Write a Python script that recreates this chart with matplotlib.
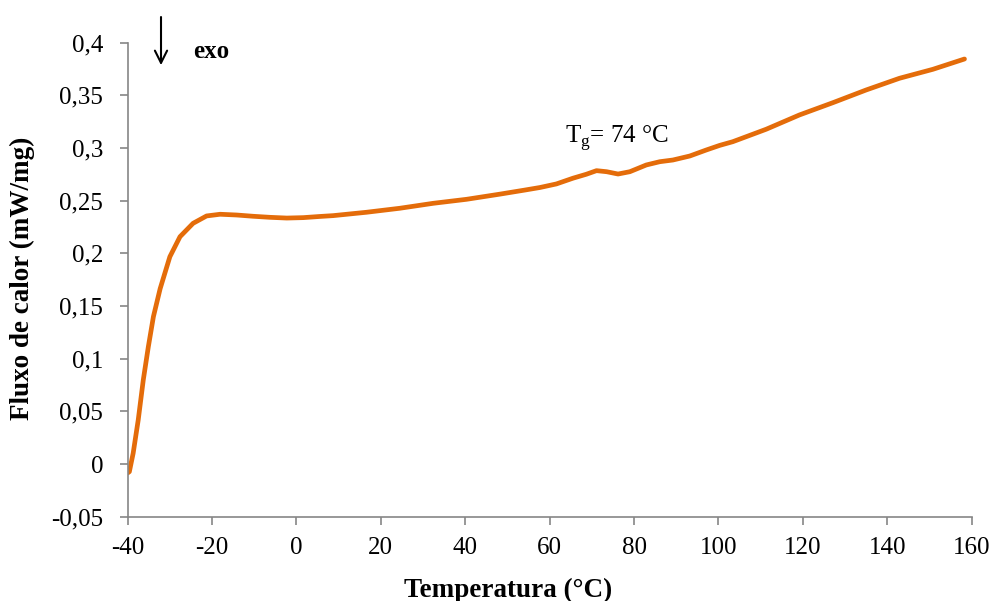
import numpy as np
import matplotlib.pyplot as plt
from matplotlib.ticker import FuncFormatter

# DSC curve (temperature in C, heat flow in mW/mg)
temperatura = [-40.0, -39.6, -38.7, -37.5, -36.3, -35.1, -33.9, -32.3, -30.0, -27.6,
               -24.5, -21.3, -18.1, -14.2, -10.3, -6.3, -2.3, 1.6, 5.5, 8.7,
               16.6, 24.5, 32.4, 40.3, 48.2, 54.0, 57.7, 61.6, 65.5, 68.7,
               71.1, 73.5, 76.2, 79.0, 82.9, 86.1, 89.2, 93.2, 97.1, 100.3,
               103.4, 111.3, 119.2, 127.1, 135.0, 142.9, 150.8, 158.3]
fluxo = [-0.0085, -0.0073, 0.0102, 0.0418, 0.0798, 0.1114, 0.1399, 0.1665, 0.1968, 0.2158,
         0.2285, 0.2355, 0.2371, 0.2364, 0.2352, 0.2342, 0.2335, 0.2339, 0.2350, 0.2358,
         0.2390, 0.2428, 0.2475, 0.2513, 0.2562, 0.2600, 0.2625, 0.2659, 0.2713, 0.2751,
         0.2785, 0.2775, 0.2753, 0.2775, 0.2839, 0.2870, 0.2886, 0.2924, 0.2981, 0.3025,
         0.3060, 0.3178, 0.3314, 0.3430, 0.3551, 0.3662, 0.3747, 0.3845]

x_ticks = [-40, -20, 0, 20, 40, 60, 80, 100, 120, 140, 160]
y_ticks = [-0.05, 0, 0.05, 0.1, 0.15, 0.2, 0.25, 0.3, 0.35, 0.4]

plt.rcParams['font.family'] = ['Liberation Serif', 'DejaVu Serif']
plt.rcParams['mathtext.fontset'] = 'custom'
plt.rcParams['mathtext.rm'] = 'Liberation Serif'
plt.rcParams['axes.unicode_minus'] = False

fig = plt.figure(figsize=(9.92, 6.01), dpi=100)
ax = fig.add_axes([0.1287, 0.1403, 0.8508, 0.7887])

ax.plot(temperatura, fluxo, color='#E46C0A', lw=3.4, solid_capstyle='round',
        solid_joinstyle='round')

ax.set_xlim(-40, 160)
ax.set_ylim(-0.05, 0.4)
ax.set_xticks(x_ticks)
ax.set_yticks(y_ticks)
ax.yaxis.set_major_formatter(FuncFormatter(lambda v, p: ('%g' % round(v, 2)).replace('.', ',')))

for s in ['top', 'right']:
    ax.spines[s].set_visible(False)
for s in ['left', 'bottom']:
    ax.spines[s].set_color('#868686')
    ax.spines[s].set_linewidth(1.2)
ax.tick_params(axis='both', direction='out', length=5.5, width=1.2, color='#868686', labelsize=18)
ax.tick_params(axis='x', pad=9)
ax.tick_params(axis='y', pad=12)

# axis titles (placed like the original, x title sits left of centre)
fig.text(0.5124, 0.0072, 'Temperatura (°C)', fontsize=19.5, fontweight='bold',
         ha='center', va='baseline')
fig.text(0.023, 0.5374, 'Fluxo de calor (mW/mg)', fontsize=19.5, fontweight='bold',
         rotation=90, ha='center', va='center')

# exo arrow
ax.annotate('', xy=(-32.1, 0.376), xytext=(-32.1, 0.427),
            arrowprops=dict(arrowstyle='->', color='black', lw=1.5, mutation_scale=22),
            annotation_clip=False)
ax.text(-24.5, 0.3915, 'exo', fontsize=18, fontweight='bold', va='center', ha='left')

ax.text(63.6, 0.3045, r'T$_{\mathrm{g}}$= 74 °C', fontsize=18, ha='left', va='baseline')

fig.savefig('out.png', dpi=100)
